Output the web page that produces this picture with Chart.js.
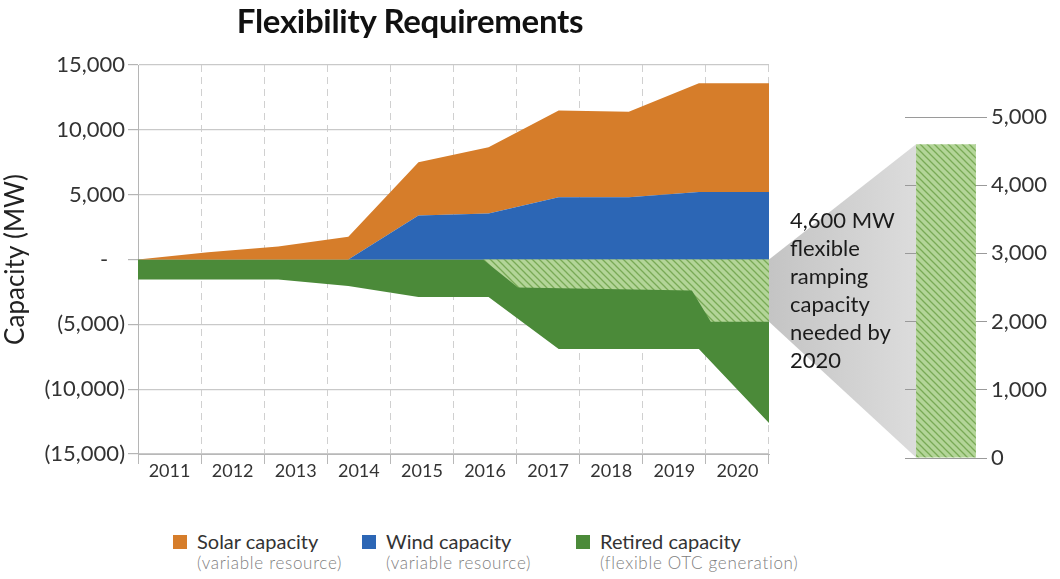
<!DOCTYPE html>
<html>
<head>
<meta charset="utf-8">
<title>Flexibility Requirements</title>
<script src="https://cdn.jsdelivr.net/npm/chart.js@4.4.1/dist/chart.umd.min.js"></script>
<style>
  body { margin: 0; background: #fff; font-family: Lato, "Open Sans", sans-serif; }
  #page { position: relative; width: 1060px; height: 579px; overflow: hidden; }
  #title { position: absolute; left: 0; top: 0; width: 820px; text-align: center; font-size: 33px; font-weight: 700; color: #111; letter-spacing: -0.3px; }
  #main-box { position: absolute; left: 0; top: 0; width: 790px; height: 500px; }
  #side-box { position: absolute; left: 769px; top: 0; width: 291px; height: 500px; }
  #note { position: absolute; left: 790px; top: 206px; font-size: 22px; line-height: 28px; color: #1b1b1b; }
  .item { position: absolute; top: 530px; }
  .swatch { position: absolute; left: -24px; top: 5px; width: 14px; height: 14px; }
  .name { font-size: 20px; line-height: 22px; color: #333; white-space: nowrap; }
  .sub { font-size: 17px; line-height: 22px; color: #808080; font-weight: 300; letter-spacing: 0.7px; white-space: nowrap; }
</style>
</head>
<body>
<div id="page">
  <div id="main-box"><canvas id="chart-main"></canvas></div>
  <div id="side-box"><canvas id="chart-side"></canvas></div>
  <div id="title">Flexibility Requirements</div>
  <div id="note">4,600 MW<br>flexible<br>ramping<br>capacity<br>needed by<br>2020</div>
  <div id="legend"></div>
</div>
<script>
const YEARS = [2011, 2012, 2013, 2014, 2015, 2016, 2017, 2018, 2019, 2020];

// MW
const WIND = [0, 0, 0, 0, 3400, 3550, 4800, 4800, 5200, 5200];
const SOLAR = [0, 550, 1000, 1750, 4100, 5100, 6700, 6600, 8400, 8400];
const RETIRED = [-1550, -1550, -1550, -2050, -2900, -2900, -6900, -6900, -6900, -12600];

// hatched flexible ramping need, its corners do not sit on whole years
const RAMP_X = [2015.92, 2016.42, 2018.9, 2019.17, 2020];
const RAMP_Y = [0, -2150, -2400, -4800, -4800];

const SIDE_LABELS = ['2020'];
const SIDE_VALUES = [4600];

const LEGEND_NAMES = ['Solar capacity', 'Wind capacity', 'Retired capacity'];
const LEGEND_NOTES = ['(variable resource)', '(variable resource)', '(flexible OTC generation)'];

const COLORS = {
  solar: '#d67d2a',
  wind: '#2c66b5',
  retired: '#4b8a39',
};

Chart.defaults.font.family = 'Lato, "Open Sans", sans-serif';

function makeHatch() {
  const c = document.createElement('canvas');
  c.width = 7;
  c.height = 7;
  const g = c.getContext('2d');
  g.fillStyle = '#b3d598';
  g.fillRect(0, 0, 7, 7);
  g.strokeStyle = '#79aa56';
  g.lineWidth = 1.3;
  g.beginPath();
  g.moveTo(-1, -1); g.lineTo(8, 8);
  g.moveTo(-1, 6); g.lineTo(1, 8);
  g.moveTo(6, -1); g.lineTo(8, 1);
  g.stroke();
  return g.createPattern(c, 'repeat');
}

function toPoints(values) {
  return YEARS.map((x, i) => ({ x, y: values[i] }));
}

// accounting style: 0 -> "-", negatives in brackets
function accounting(v) {
  if (v === 0) return '-   ';
  const s = Math.abs(v).toLocaleString('en-US');
  return v < 0 ? '(' + s + ')' : s;
}

const hatch = makeHatch();

const mainChart = new Chart(document.getElementById('chart-main'), {
  type: 'line',
  data: {
    datasets: [
      { label: 'Flexible ramping need', stack: 'ramp', data: RAMP_X.map((x, i) => ({ x, y: RAMP_Y[i] })), fill: 'origin', backgroundColor: hatch },
      { label: LEGEND_NAMES[1], stack: 'cap', data: toPoints(WIND), fill: 'origin', backgroundColor: COLORS.wind },
      { label: LEGEND_NAMES[0], stack: 'cap', data: toPoints(SOLAR), fill: '-1', backgroundColor: COLORS.solar },
      { label: LEGEND_NAMES[2], stack: 'ret', data: toPoints(RETIRED), fill: 'origin', backgroundColor: COLORS.retired },
    ]
  },
  options: {
    responsive: true,
    maintainAspectRatio: false,
    animation: false,
    layout: { padding: { top: 65, right: 21, bottom: 6, left: 0 } },
    elements: {
      point: { radius: 0 },
      line: { borderWidth: 0, borderColor: 'rgba(0,0,0,0)', tension: 0 },
    },
    plugins: { legend: { display: false }, tooltip: { enabled: false } },
    scales: {
      x: { type: 'linear', min: 2011, max: 2020, display: false },
      xl: {
        type: 'category',
        labels: YEARS.map(String),
        position: 'bottom',
        offset: true,
        grid: { offset: true, color: '#d0d0d0', tickColor: '#b8b8b8', tickLength: 10, tickBorderDash: [] },
        border: { color: '#b8b8b8', dash: [7, 5] },
        ticks: { color: '#333', font: { size: 18 }, padding: -4, maxRotation: 0 },
        afterFit: s => { s.height = 40; },
      },
      y: {
        stacked: true,
        min: -15000,
        max: 15000,
        ticks: { stepSize: 5000, color: '#333', font: { size: 22 }, padding: 3, callback: accounting },
        grid: { color: '#c9c9c9', lineWidth: 1.2, tickColor: '#b5b5b5', tickLength: 10 },
        border: { color: '#b5b5b5' },
        title: { display: true, text: 'Capacity (MW)', color: '#222', font: { size: 26 }, padding: 0 },
        afterFit: s => { s.width = 138; },
      },
    },
  },
});

const sideBox = document.getElementById('side-box');

// grey wedge from the 2020 ramping need to the bar on the right
const connector = {
  id: 'connector',
  beforeDraw(chart) {
    const bar = chart.getDatasetMeta(0).data[0];
    const y = mainChart.scales.y;
    const x0 = mainChart.chartArea.right - sideBox.offsetLeft;
    const x1 = bar.x - bar.width / 2;
    const ctx = chart.ctx;
    const g = ctx.createLinearGradient(x0, 0, x1, 0);
    g.addColorStop(0, '#c4c4c4');
    g.addColorStop(1, '#dcdcdc');
    ctx.save();
    ctx.fillStyle = g;
    ctx.beginPath();
    ctx.moveTo(x0, y.getPixelForValue(0));
    ctx.lineTo(x1, bar.y);
    ctx.lineTo(x1, bar.base);
    ctx.lineTo(x0, y.getPixelForValue(RAMP_Y[RAMP_Y.length - 1]));
    ctx.closePath();
    ctx.fill();
    ctx.restore();
  }
};

const sideChart = new Chart(document.getElementById('chart-side'), {
  type: 'bar',
  data: {
    labels: SIDE_LABELS,
    datasets: [{
      label: 'Flexible ramping capacity',
      data: SIDE_VALUES,
      backgroundColor: hatch,
      barPercentage: 0.73,
      categoryPercentage: 1,
    }]
  },
  options: {
    responsive: true,
    maintainAspectRatio: false,
    animation: false,
    layout: { padding: { top: 117, right: 0, bottom: 42, left: 136 } },
    plugins: { legend: { display: false }, tooltip: { enabled: false } },
    scales: {
      x: { display: false },
      y: {
        position: 'right',
        min: 0,
        max: 5000,
        ticks: { stepSize: 1000, color: '#333', font: { size: 22 }, padding: 4, callback: v => v.toLocaleString('en-US') },
        grid: { color: '#9a9a9a', drawTicks: false },
        border: { display: false },
        afterFit: s => { s.width = 73; },
      },
    },
  },
  plugins: [connector],
});

(() => {
  const legend = document.getElementById('legend');
  const colors = [COLORS.solar, COLORS.wind, COLORS.retired];
  const lefts = [197, 386, 600];
  LEGEND_NAMES.forEach((name, i) => {
    const item = document.createElement('div');
    item.className = 'item';
    item.style.left = lefts[i] + 'px';
    item.innerHTML = '<div class="swatch" style="background:' + colors[i] + '"></div>' +
      '<div class="name">' + name + '</div><div class="sub">' + LEGEND_NOTES[i] + '</div>';
    legend.appendChild(item);
  });
})();
</script>
</body>
</html>
